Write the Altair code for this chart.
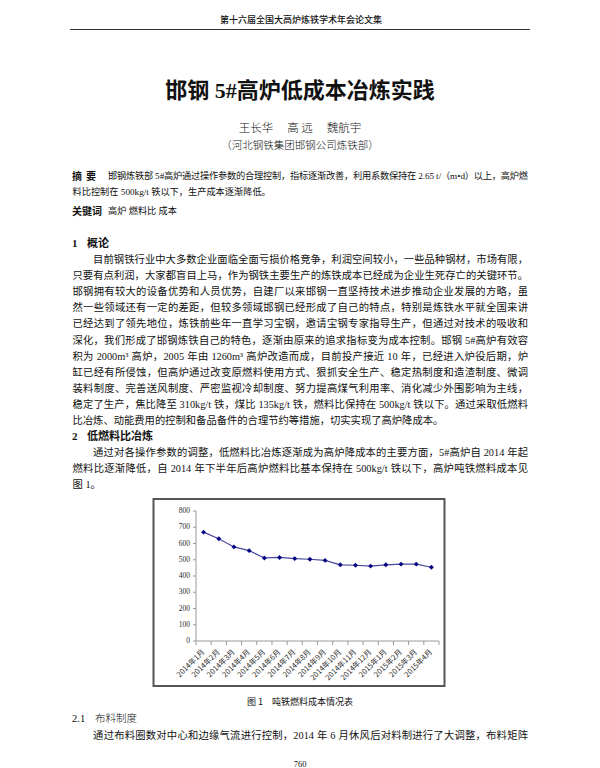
import altair as alt
import pandas as pd

# ---------------- chart data ----------------
months = ["2014年1月", "2014年2月", "2014年3月", "2014年4月", "2014年5月", "2014年6月",
          "2014年7月", "2014年8月", "2014年9月", "2014年10月", "2014年11月", "2014年12月",
          "2015年1月", "2015年2月", "2015年3月", "2015年4月"]
fuel_cost = [670, 629, 579, 556, 511, 514, 507, 503, 496, 469, 466, 461, 469, 473, 473, 454]
y_ticks = [0, 100, 200, 300, 400, 500, 600, 700, 800]

# ---------------- page text ----------------
header_text = "第十六届全国大高炉炼铁学术年会论文集"
title_text = "邯钢 5#高炉低成本冶炼实践"
authors_text = "王长华　 高 远　 魏航宇"
affil_text = "（河北钢铁集团邯钢公司炼铁部）"
abstract_label = ["摘", "要"]
abstract_lines = [
    "邯钢炼铁部 5#高炉通过操作参数的合理控制，指标逐渐改善，利用系数保持在 2.65 t/（m•d）以上，高炉燃",
    "料比控制在 500kg/t 铁以下，生产成本逐渐降低。",
]
keyword_label = "关键词"
keyword_text = "高炉 燃料比 成本"
sec1 = ["1", "概论"]
body1 = [
    "目前钢铁行业中大多数企业面临全面亏损价格竞争，利润空间较小，一些品种钢材，市场有限，",
    "只要有点利润，大家都盲目上马，作为钢铁主要生产的炼铁成本已经成为企业生死存亡的关键环节。",
    "邯钢拥有较大的设备优势和人员优势，自建厂以来邯钢一直坚持技术进步推动企业发展的方略，虽",
    "然一些领域还有一定的差距，但较多领域邯钢已经形成了自己的特点，特别是炼铁水平就全国来讲",
    "已经达到了领先地位，炼铁前些年一直学习宝钢，邀请宝钢专家指导生产，但通过对技术的吸收和",
    "深化，我们形成了邯钢炼铁自己的特色，逐渐由原来的追求指标变为成本控制。邯钢 5#高炉有效容",
    "积为 2000m³ 高炉，2005 年由 1260m³ 高炉改造而成，目前投产接近 10 年，已经进入炉役后期，炉",
    "缸已经有所侵蚀，但高炉通过改变原燃料使用方式、狠抓安全生产、稳定热制度和造渣制度、微调",
    "装料制度、完善送风制度、严密监视冷却制度、努力提高煤气利用率、消化减少外围影响为主线，",
    "稳定了生产，焦比降至 310kg/t 铁，煤比 135kg/t 铁，燃料比保持在 500kg/t 铁以下。通过采取低燃料",
    "比冶炼、动能费用的控制和备品备件的合理节约等措施，切实实现了高炉降成本。",
]
sec2 = ["2", "低燃料比冶炼"]
body2 = [
    "通过对各操作参数的调整，低燃料比冶炼逐渐成为高炉降成本的主要方面，5#高炉自 2014 年起",
    "燃料比逐渐降低，自 2014 年下半年后高炉燃料比基本保持在 500kg/t 铁以下，高炉吨铁燃料成本见",
    "图 1。",
]
caption_text = "图 1　吨铁燃料成本情况表"
sec21 = ["2.1", "布料制度"]
body3 = ["通过布料圈数对中心和边缘气流进行控制，2014 年 6 月休风后对料制进行了大调整，布料矩阵"]
page_no = "760"

# ---------------- layout helpers ----------------
W, H = 584, 760
OFF = 8
LEFT, RIGHT = 72.5, 528.0
MIX = "Liberation Serif, Noto Sans CJK SC"
CJK = "Noto Sans CJK SC"
BODY = 10.3
ABS = 9.2
AX = "#9a9a9a"

LAT_W = {" ": 0.25, ".": 0.25, "/": 0.278, "#": 0.5, "m": 0.778, "k": 0.5, "g": 0.5,
         "t": 0.278, "d": 0.5, "³": 0.3, "•": 0.35}


def glyph_w(ch, size):
    if ord(ch) >= 0x2E80:
        return size
    return LAT_W.get(ch, 0.5) * size


def tokenize(text, size):
    toks, buf = [], ""
    for ch in text:
        if ord(ch) >= 0x2E80 or ch == " ":
            if buf:
                toks.append(buf)
                buf = ""
            toks.append(ch)
        else:
            buf += ch
    if buf:
        toks.append(buf)
    return [(t, sum(glyph_w(c, size) for c in t)) for t in toks]


def set_line(rows, text, yc, left, right, size, justify):
    toks = tokenize(text, size)
    nat = sum(w for _, w in toks)
    gap = (right - left - nat) / (len(toks) - 1) if justify and len(toks) > 1 else 0.0
    x = left
    for t, w in toks:
        if t.strip():
            rows.append({"t": t, "x": x - OFF, "y": yc + 0.38 * size - OFF})
        x += w + gap


def tlayer(rows, size, weight="normal", font=MIX, color="#111111"):
    return alt.Chart(pd.DataFrame(rows)).mark_text(
        align="left", baseline="alphabetic", fontSize=size, fontWeight=weight,
        font=font, color=color
    ).encode(
        x=alt.X("x:Q", scale=None, axis=None),
        y=alt.Y("y:Q", scale=None, axis=None),
        text="t:N",
    )


def ctext(text, xc, yc, size, weight="normal", font=MIX, align="center", color="#111111"):
    return alt.Chart(alt.Data(values=[{"t": text}])).mark_text(
        align=align, baseline="alphabetic", fontSize=size, fontWeight=weight,
        font=font, color=color
    ).encode(
        x=alt.value(xc - OFF), y=alt.value(yc + 0.38 * size - OFF), text="t:N"
    )


def blank():
    return alt.Chart(alt.Data(values=[{}]))


# ---------------- text rows ----------------
LS = 16.1
body_rows, abs_rows = [], []
set_line(abs_rows, abstract_lines[0], 176, 108, RIGHT, ABS, True)
set_line(abs_rows, abstract_lines[1], 192, LEFT, RIGHT, ABS, False)
set_line(abs_rows, keyword_text, 211, 108, RIGHT, ABS, False)

y0 = 243
for i, line in enumerate(body1):
    indent = 2 * BODY if i == 0 else 0
    set_line(body_rows, line, y0 + LS * (i + 1), LEFT + indent, RIGHT, BODY, i < len(body1) - 1)
y_sec2 = y0 + LS * (len(body1) + 1)
for i, line in enumerate(body2):
    indent = 2 * BODY if i == 0 else 0
    set_line(body_rows, line, y_sec2 + LS * (i + 1), LEFT + indent, RIGHT, BODY, i < len(body2) - 1)
set_line(body_rows, body3[0], 735, LEFT + 2 * BODY, RIGHT, BODY, True)

layers = []
# chart frame
layers.append(
    blank().mark_rect(fill="white", stroke="#555555", strokeWidth=2).encode(
        x=alt.value(153.5 - OFF), x2=alt.value(444.5 - OFF),
        y=alt.value(499 - OFF), y2=alt.value(686 - OFF))
)
# header rule
layers.append(
    blank().mark_rule(color="#333333", strokeWidth=1.2).encode(
        x=alt.value(70 - OFF), x2=alt.value(530 - OFF), y=alt.value(29.5 - OFF))
)
layers += [
    ctext(header_text, 301, 20, 9, font=CJK, weight=500),
    ctext(title_text, 300, 90, 22, weight="bold"),
    ctext(authors_text, 300, 128, 11.5, font=CJK, weight=300),
    ctext(affil_text, 300, 145, 10.5, font=CJK, weight=300),
    ctext(abstract_label[0], 72, 176, 10, weight="bold", align="left"),
    ctext(abstract_label[1], 86, 176, 10, weight="bold", align="left"),
    ctext(keyword_label, 72, 211, 10, weight="bold", align="left"),
    ctext(sec1[0], 72, y0, 11, weight="bold", align="left"),
    ctext(sec1[1], 87, y0, 11, weight="bold", align="left"),
    ctext(sec2[0], 72, y_sec2, 11, weight="bold", align="left"),
    ctext(sec2[1], 87, y_sec2, 11, weight="bold", align="left"),
    ctext(caption_text, 300, 702, 9, font=CJK),
    ctext(sec21[0], 72, 718.5, 10.5, align="left"),
    ctext(sec21[1], 95, 718.5, 10.5, align="left", font=CJK, weight=300),
    ctext(page_no, 300, 764, 8.5, font="Liberation Serif"),
    tlayer(abs_rows, ABS),
    tlayer(body_rows, BODY),
]

# ---------------- line chart (axes drawn from the same scales) ----------------
X0, X1 = 196 - OFF, 439 - OFF     # plot x range
Y0, Y1 = 641 - OFF, 511 - OFF     # plot y range (0 -> 800)
cost_df = pd.DataFrame({"month": months, "cost": fuel_cost})
tick_df = pd.DataFrame({"v": y_ticks})
xsc = alt.Scale(type="band", domain=months, range=[X0, X1], paddingInner=0, paddingOuter=0)
ysc = alt.Scale(domain=[0, 800], range=[Y0, Y1], nice=False)

x_enc = alt.X("month:N", sort=months, scale=xsc, axis=None)
y_enc = alt.Y("cost:Q", scale=ysc, axis=None)

y_domain = blank().mark_rule(color=AX, strokeWidth=1).encode(
    x=alt.value(X0), y=alt.value(Y0), y2=alt.value(Y1))
x_domain = blank().mark_rule(color=AX, strokeWidth=1).encode(
    x=alt.value(X0), x2=alt.value(X1), y=alt.value(Y0))
y_tick_marks = alt.Chart(tick_df).mark_rule(color=AX).encode(
    y=alt.Y("v:Q", scale=ysc, axis=None), x=alt.value(X0 - 3), x2=alt.value(X0))
y_tick_labels = alt.Chart(tick_df).mark_text(
    align="right", baseline="middle", font="Liberation Serif", fontSize=7.5, color="#2a2a2a"
).encode(y=alt.Y("v:Q", scale=ysc, axis=None), x=alt.value(X0 - 6), text="v:Q")
x_tick_marks = alt.Chart(cost_df).mark_rule(color=AX).encode(
    x=alt.X("month:N", sort=months, scale=xsc, axis=None, bandPosition=0),
    y=alt.value(Y0), y2=alt.value(Y0 + 4))
x_tick_end = blank().mark_rule(color=AX).encode(x=alt.value(X1), y=alt.value(Y0), y2=alt.value(Y0 + 4))
x_tick_labels = alt.Chart(cost_df).mark_text(
    angle=315, align="right", baseline="middle", font=CJK, fontSize=7.5, color="#2a2a2a"
).encode(x=alt.X("month:N", sort=months, scale=xsc, axis=None), y=alt.value(Y0 + 10), text="month:N")

line = alt.Chart(cost_df).mark_line(color="#4848a0", strokeWidth=1.2).encode(x=x_enc, y=y_enc)
pts = alt.Chart(cost_df).mark_point(shape="diamond", filled=True, size=24, color="#000080",
                                    opacity=1).encode(x=x_enc, y=y_enc)
layers.append(alt.layer(y_domain, x_domain, y_tick_marks, y_tick_labels, x_tick_marks,
                        x_tick_end, x_tick_labels, line, pts))

chart = alt.layer(*layers).resolve_scale(x="independent", y="independent").properties(
    width=W, height=H, autosize=alt.AutoSizeParams(type="none"), padding=0, background="white"
).configure_view(stroke=None)

chart.save("out.html", embed_options={"renderer": "svg", "actions": False})
